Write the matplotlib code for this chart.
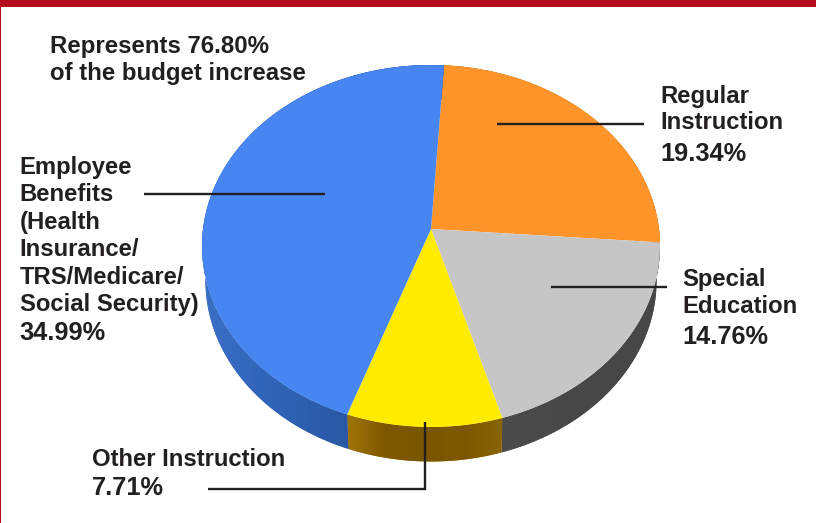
import numpy as np
import matplotlib
matplotlib.use("Agg")
import matplotlib.pyplot as plt
from matplotlib.colors import LinearSegmentedColormap
from matplotlib.path import Path
from matplotlib.transforms import Transform

plt.rcParams['font.family'] = ['Liberation Sans', 'DejaVu Sans']

# slice order follows the picture, clockwise from the top
names = ["Regular\nInstruction", "Special\nEducation", "Other Instruction",
         "Employee\nBenefits\n(Health\nInsurance/\nTRS/Medicare/\nSocial Security)"]
shares = [19.34, 14.76, 7.71, 34.99]
colors = ["#FF942B", "#C6C6C6", "#FFEC00", "#4785F0"]
note = "Represents 76.80%\nof the budget increase"

INK = "#231F20"
RED = "#B50D1E"
CX, CY = 431, 229
R_UP, R_DOWN = 164, 198
HALF_W = 229
START = 86.4
DEPTH = 34.5

# perspective of the disc: far edge small, near edge big
K = (R_DOWN - R_UP) / (R_DOWN + R_UP)
B = R_UP * (1 + K)
A = HALF_W * np.sqrt(1 - K * K)


class Tilt(Transform):
    input_dims = 2
    output_dims = 2

    def transform_non_affine(self, values):
        values = np.asarray(values, dtype=float)
        w = 1 + K * values[:, 1]
        return np.column_stack([CX + A * values[:, 0] / w, CY - B * values[:, 1] / w])

    def transform_path_non_affine(self, path):
        pts = [curve(np.linspace(0, 1, 16)) for curve, code in path.iter_bezier()]
        return Path(self.transform_non_affine(np.vstack(pts)))


fig = plt.figure(figsize=(8.16, 5.23), dpi=100)
ax = fig.add_axes([0, 0, 1, 1])
tilt = Tilt()

wedges, _ = ax.pie(shares, colors=colors, startangle=START, counterclock=False,
                   radius=1, wedgeprops={'linewidth': 0})
for w in wedges:
    w.set_transform(tilt + ax.transData)
    w.set_zorder(3)

ax.set_aspect('auto')
ax.axis('off')

# side wall of the disc
wall_maps = [["#C87A20", "#C87A20"],
             ["#4C4C4C", "#474747", "#484848"],
             ["#A07408", "#7D5700", "#7B5600", "#7D5700", "#8A6506"],
             ["#3B6FC6", "#2F62B4", "#28559F", "#1F4A8E"]]
edges = START - 360 * np.cumsum([0] + shares) / np.sum(shares)
for i in range(len(shares)):
    t = np.radians(np.linspace(edges[i], edges[i + 1], 120))
    rim = tilt.transform_non_affine(np.column_stack([np.cos(t), np.sin(t)]))
    low = rim[::-1].copy()
    low[:, 0] = CX + (low[:, 0] - CX) * 0.985
    low[:, 1] += DEPTH
    poly, = ax.fill(np.r_[rim[:, 0], low[:, 0]], np.r_[rim[:, 1], low[:, 1]],
                    color=wall_maps[i][0], lw=0, zorder=1)
    x0, x1 = rim[:, 0].min(), rim[:, 0].max()
    cmap = LinearSegmentedColormap.from_list("wall%d" % i, wall_maps[i])
    im = ax.imshow(np.linspace(0, 1, 256)[None, :], cmap=cmap, aspect='auto',
                   extent=[x0, x1, 523, 0], zorder=2)
    im.set_clip_path(poly)
ax.set_xlim(0, 816)
ax.set_ylim(523, 0)

# page frame
ax.fill_between([0, 816], 0, 7, color=RED, lw=0, zorder=6)
ax.fill_between([0, 1.2], 0, 523, color=RED, lw=0, zorder=6)

# leader lines
line_kw = dict(color=INK, lw=1.7, zorder=5, solid_capstyle='butt', solid_joinstyle='miter')
ax.plot([497, 644], [124, 124], **line_kw)
ax.plot([551, 667], [287, 287], **line_kw)
ax.plot([144, 325], [194, 194], **line_kw)
ax.plot([208, 424.5, 424.5], [489, 489, 422], **line_kw)

# labels
txt_kw = dict(color=INK, fontweight='bold', va='center', ha='left', zorder=7)
ax.text(50.5, 60, note, fontsize=17.3, linespacing=1.2, **txt_kw)
label_pos = [(660, 109.5), (682, 293), (91.5, 459), (19.5, 236)]
pct_pos = [(660, 154), (682, 336.5), (91.5, 488), (19.5, 333)]
for i, (name, share, p, q) in enumerate(zip(names, shares, label_pos, pct_pos)):
    ax.text(p[0], p[1], name, fontsize=17.2, linespacing=1.25 if i == 3 else 1.2, **txt_kw)
    ax.text(q[0], q[1], "%.2f%%" % share, fontsize=18.3, **txt_kw)

fig.savefig("out.png", dpi=100)
